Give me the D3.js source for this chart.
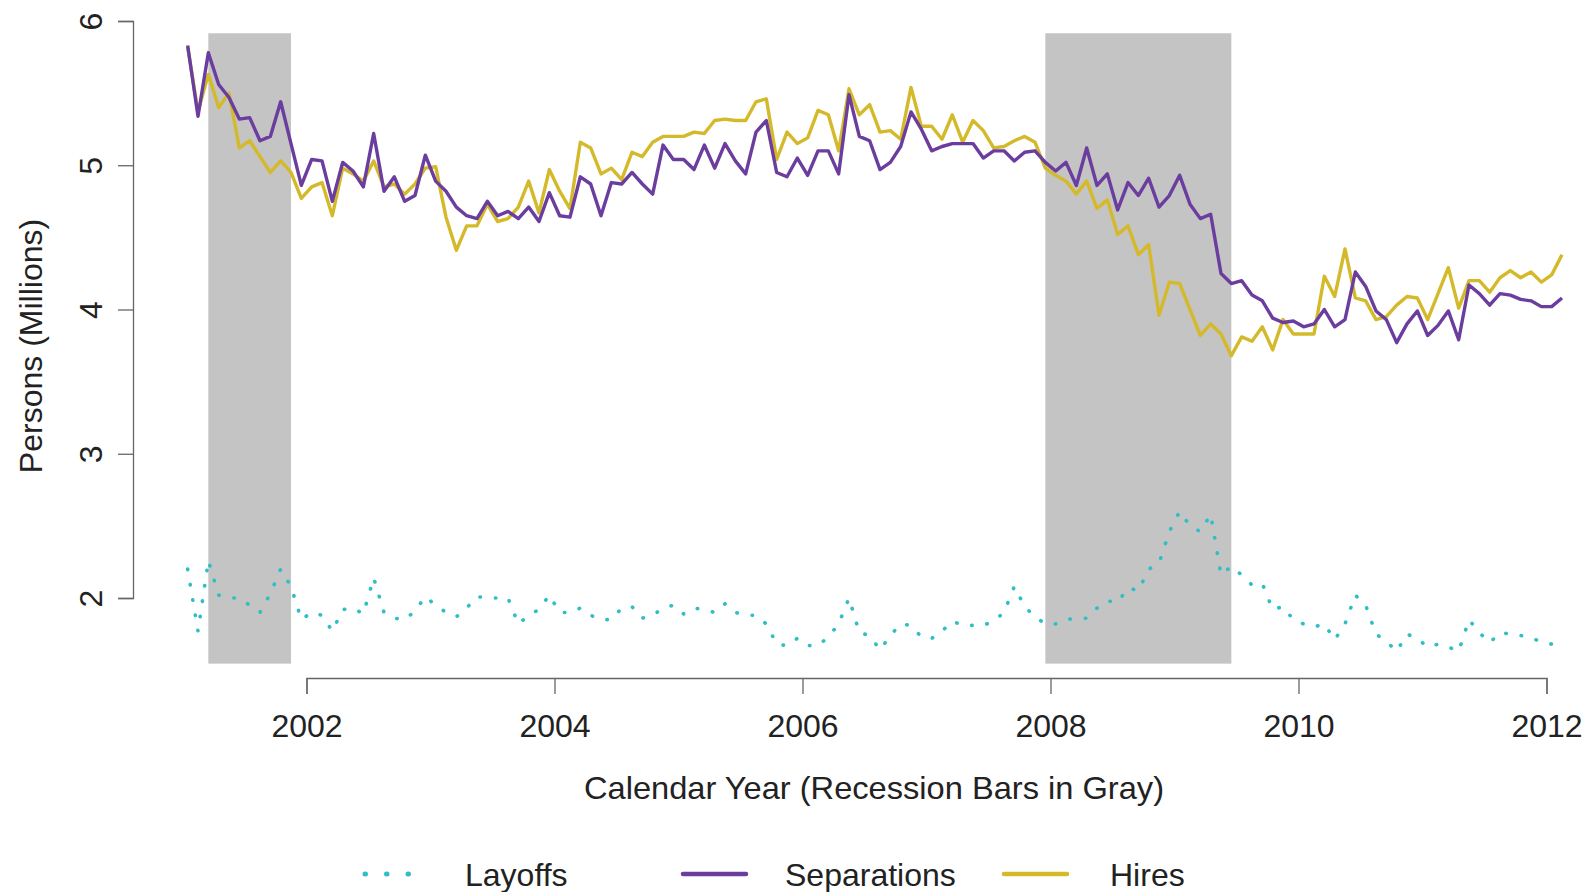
<!DOCTYPE html>
<html>
<head>
<meta charset="utf-8">
<script src="https://cdn.jsdelivr.net/npm/d3@7"></script>
<style>
  html, body { margin: 0; padding: 0; background: #fff; }
  svg { display: block; }
  text { font-family: "Liberation Sans", Arial, Helvetica, sans-serif; fill: #222; }
</style>
</head>
<body>
<svg id="chart" width="1587" height="892"></svg>
<script>
// ---------------- DATA ----------------
const startYear = 2001;           // first month: January 2001
const startMonth = 1;
const yearTicks = [2002, 2004, 2006, 2008, 2010, 2012];
const valueTicks = [2, 3, 4, 5, 6];
const seriesNames = ["Layoffs", "Separations", "Hires"];
// recession periods as [start year, start month, end year, end month]
const recessions = [[2001, 3, 2001, 11], [2007, 12, 2009, 6]];

const separations = [
  5.83,5.34,5.78,5.56,5.47,5.32,5.33,5.17,5.20,5.44,5.15,4.86,
  5.04,5.03,4.75,5.02,4.96,4.85,5.22,4.82,4.92,4.75,4.79,5.07,
  4.89,4.82,4.71,4.65,4.63,4.75,4.65,4.68,4.63,4.71,4.61,4.81,
  4.65,4.64,4.92,4.87,4.65,4.88,4.87,4.95,4.87,4.80,5.14,5.04,
  5.04,4.97,5.14,4.98,5.15,5.03,4.94,5.23,5.31,4.95,4.92,5.05,
  4.93,5.10,5.10,4.94,5.49,5.20,5.17,4.97,5.02,5.13,5.37,5.25,
  5.10,5.13,5.15,5.15,5.15,5.05,5.10,5.10,5.03,5.09,5.10,5.02,
  4.96,5.02,4.86,5.12,4.86,4.94,4.69,4.88,4.79,4.91,4.71,4.79,
  4.93,4.73,4.63,4.66,4.25,4.18,4.20,4.10,4.06,3.94,3.91,3.92,
  3.88,3.90,4.00,3.88,3.93,4.26,4.16,3.99,3.93,3.77,3.90,3.99,
  3.82,3.89,3.99,3.79,4.17,4.11,4.03,4.11,4.10,4.07,4.06,4.02,
  4.02,4.08
];
const hires = [
  5.82,5.37,5.63,5.40,5.50,5.12,5.17,5.06,4.95,5.03,4.95,4.77,
  4.85,4.88,4.65,4.98,4.94,4.89,5.03,4.85,4.87,4.80,4.87,4.98,
  4.99,4.64,4.41,4.58,4.58,4.73,4.61,4.63,4.71,4.89,4.67,4.97,
  4.82,4.70,5.16,5.12,4.94,4.98,4.90,5.09,5.06,5.16,5.20,5.20,
  5.20,5.23,5.22,5.31,5.32,5.31,5.31,5.44,5.46,5.04,5.23,5.15,
  5.19,5.38,5.35,5.10,5.53,5.35,5.42,5.23,5.24,5.18,5.54,5.27,
  5.27,5.18,5.35,5.16,5.31,5.24,5.12,5.13,5.17,5.20,5.16,4.98,
  4.93,4.89,4.80,4.89,4.70,4.76,4.52,4.58,4.38,4.45,3.96,4.19,
  4.18,4.00,3.82,3.90,3.83,3.68,3.81,3.78,3.88,3.72,3.93,3.83,
  3.83,3.83,4.23,4.09,4.42,4.08,4.06,3.93,3.95,4.03,4.09,4.08,
  3.93,4.11,4.29,4.01,4.20,4.20,4.12,4.22,4.27,4.22,4.26,4.19,
  4.24,4.38
];
const layoffs = [
  2.20,1.77,2.26,2.02,2.00,2.00,1.95,1.90,2.03,2.20,2.08,1.85,
  1.90,1.88,1.77,1.92,1.93,1.89,2.14,1.90,1.86,1.85,1.91,2.01,
  1.95,1.90,1.87,1.93,2.01,2.00,2.00,2.00,1.82,1.88,1.92,2.02,
  1.90,1.90,1.93,1.88,1.85,1.85,1.93,1.94,1.86,1.88,1.93,1.95,
  1.89,1.93,1.92,1.90,1.96,1.90,1.88,1.88,1.82,1.68,1.67,1.72,
  1.67,1.67,1.73,1.82,2.00,1.76,1.74,1.64,1.74,1.82,1.81,1.73,
  1.72,1.77,1.84,1.81,1.81,1.81,1.84,1.90,2.08,1.94,1.87,1.82,
  1.82,1.85,1.86,1.86,1.93,1.98,1.97,2.07,2.05,2.20,2.24,2.46,
  2.60,2.50,2.46,2.58,2.16,2.22,2.16,2.09,2.10,1.92,1.94,1.85,
  1.82,1.80,1.82,1.71,1.82,2.02,1.95,1.75,1.70,1.63,1.75,1.72,
  1.66,1.68,1.66,1.63,1.85,1.76,1.69,1.76,1.75,1.74,1.72,1.70,
  1.68,1.66
];

// ---------------- LAYOUT ----------------
const W = 1587, H = 892;
const svg = d3.select("#chart");
svg.append("rect").attr("width", W).attr("height", H).attr("fill", "#fff");

const colors = { Layoffs: "#2ebfc4", Separations: "#6a3d9e", Hires: "#d4ba2a" };

// decimal year at the middle of a month
const monthMid = (y, m) => y + (m - 0.5) / 12;
const dateOf = i => monthMid(startYear, startMonth + i);

const x = d3.scaleLinear().domain([2002, 2012]).range([306.5, 1546.5]);
const y = d3.scaleLinear().domain([2, 6]).range([598, 21]);

// recession bars
const barTop = 5.915, barBottom = 1.545;
svg.append("g").selectAll("rect").data(recessions).join("rect")
  .attr("x", d => x(monthMid(d[0], d[1])))
  .attr("width", d => x(monthMid(d[2], d[3])) - x(monthMid(d[0], d[1])))
  .attr("y", y(barTop))
  .attr("height", y(barBottom) - y(barTop))
  .attr("fill", "#c4c4c4");

// axes
const axisColor = "#666";
const xAxis = svg.append("g").attr("transform", `translate(0,678)`)
  .call(d3.axisBottom(x).tickValues(yearTicks).tickFormat(d3.format("d")).tickSize(16).tickPadding(20));
xAxis.select(".domain").attr("stroke", axisColor).attr("stroke-width", 1.3);
xAxis.selectAll(".tick line").attr("stroke", axisColor).attr("stroke-width", 1.3);
xAxis.selectAll(".tick text").attr("font-size", 32).attr("fill", "#222")
  .attr("font-family", "'Liberation Sans', Arial, sans-serif").attr("dy", null).attr("y", 59);

const yAxis = svg.append("g").attr("transform", `translate(133,0)`)
  .call(d3.axisLeft(y).tickValues(valueTicks).tickFormat(d3.format("d")).tickSize(15));
yAxis.select(".domain").attr("stroke", axisColor).attr("stroke-width", 1.3);
yAxis.selectAll(".tick line").attr("stroke", axisColor).attr("stroke-width", 1.3);
yAxis.selectAll(".tick text")
  .attr("font-size", 32).attr("fill", "#222")
  .attr("font-family", "'Liberation Sans', Arial, sans-serif")
  .attr("x", null).attr("dy", null)
  .attr("text-anchor", "middle")
  .attr("transform", "translate(-31,0) rotate(-90)");

// axis titles
svg.append("text").attr("x", 874).attr("y", 799).attr("text-anchor", "middle")
  .attr("font-size", 32).attr("textLength", 580).attr("lengthAdjust", "spacingAndGlyphs")
  .text("Calendar Year (Recession Bars in Gray)");
svg.append("text").attr("transform", "translate(42,346) rotate(-90)")
  .attr("text-anchor", "middle").attr("font-size", 32).text("Persons (Millions)");

// lines
const line = d3.line().x((d, i) => x(dateOf(i))).y(d => y(d));

svg.append("path").datum(layoffs).attr("d", line)
  .attr("fill", "none").attr("stroke", colors.Layoffs).attr("stroke-width", 3.6)
  .attr("stroke-linecap", "round").attr("stroke-dasharray", "0.5,15");
svg.append("path").datum(hires).attr("d", line)
  .attr("fill", "none").attr("stroke", colors.Hires).attr("stroke-width", 3.4)
  .attr("stroke-linejoin", "round");
svg.append("path").datum(separations).attr("d", line)
  .attr("fill", "none").attr("stroke", colors.Separations).attr("stroke-width", 3.4)
  .attr("stroke-linejoin", "round");

// legend
const legendItems = [
  { name: seriesNames[0], x1: 365, x2: 410, tx: 465, dash: "0.5,21", w: 5 },
  { name: seriesNames[1], x1: 683, x2: 746, tx: 785, dash: null, w: 4.5 },
  { name: seriesNames[2], x1: 1004, x2: 1067, tx: 1110, dash: null, w: 4.5 }
];
const lg = svg.append("g");
legendItems.forEach(it => {
  const ln = lg.append("line").attr("x1", it.x1).attr("x2", it.x2)
    .attr("y1", 874).attr("y2", 874)
    .attr("stroke", colors[it.name]).attr("stroke-width", it.w).attr("stroke-linecap", "round");
  if (it.dash) ln.attr("stroke-dasharray", it.dash);
  lg.append("text").attr("x", it.tx).attr("y", 886).attr("font-size", 32).text(it.name);
});
</script>
</body>
</html>
